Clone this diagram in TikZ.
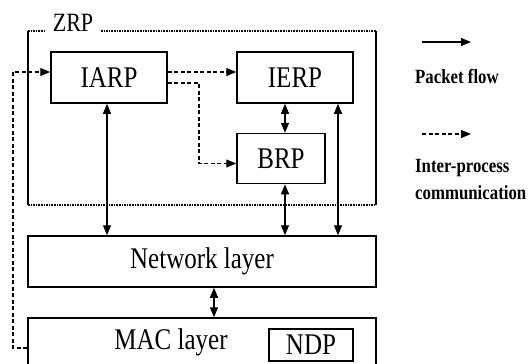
\documentclass[tikz,border=0pt]{standalone}
\usepackage{fontspec}
\setmainfont{Liberation Serif}
\usetikzlibrary{arrows.meta}
\newcommand{\vst}[1]{\scalebox{1}[1.2]{#1}}
\begin{document}
\begin{tikzpicture}[x=1pt,y=-1pt,
  box/.style={draw,line width=1.5pt,inner sep=0pt,font=\fontsize{25}{28}\selectfont},
  flow/.style={line width=1.2pt,{Triangle[length=10pt,width=8pt]}-{Triangle[length=10pt,width=8pt]}},
  flowone/.style={line width=1.2pt,-{Triangle[length=10pt,width=8pt]}},
  ipc/.style={line width=1.2pt,dash pattern=on 4pt off 2.5pt,-{Triangle[length=10pt,width=8pt]}},
  zdot/.style={line width=2.4pt,dash pattern=on 1.6pt off 1pt},
  zside/.style={line width=1.5pt},
  legtext/.style={font=\fontsize{16.8}{20}\selectfont\bfseries,inner sep=0pt,anchor=west}]
\clip (0,0) rectangle (530,364);
\fill[white] (0,0) rectangle (530,364);
% ZRP frame
\coordinate (ztl) at (28,31);
\coordinate (ztr) at (376,31);
\coordinate (zbl) at (28,205);
\coordinate (zbr) at (376,205);
\draw[zside] (ztl) -- (zbl);
\draw[zside] (ztr) -- (zbr);
\draw[zdot] (ztl) -- (45,31);
\draw[zdot] (101,31) -- (ztr);
\draw[zdot] (zbl) -- (zbr);
\node[font=\fontsize{22}{24}\selectfont,inner sep=0pt] (zrp) at (73,23) {\vst{ZRP}};
% boxes
\node[box,minimum width=116pt,minimum height=51pt] (iarp) at (109,77.5) {\vst{IARP}};
\node[box,minimum width=116pt,minimum height=51pt] (ierp) at (295,77.5) {\vst{IERP}};
\node[box,minimum width=88pt,minimum height=50pt] (brp) at (281,158.5) {\vst{BRP}};
\node[box,minimum width=348pt,minimum height=51pt] (net) at (202,261.5) {\vst{Network layer}};
\node[box,minimum width=348pt,minimum height=60pt] (mac) at (202,348) {};
\node[font=\fontsize{25}{28}\selectfont,inner sep=0pt] (maclbl) at (171,342) {\vst{MAC layer}};
\node[box,minimum width=84pt,minimum height=32pt] (ndp) at (311,345) {\vst{NDP}};
% helper coordinates
\coordinate (c0) at (107,0);
\coordinate (c1) at (285,0);
\coordinate (c2) at (338,0);
\coordinate (c3) at (214,0);
\coordinate (d1) at (0,72);
\coordinate (d2) at (0,83);
\coordinate (d3) at (0,163.5);
\coordinate (dl) at (13,0);
\coordinate (dm) at (199,0);
% packet flow
\draw[flow] (iarp.south -| c0) -- (net.north -| c0);
\draw[flow] (ierp.south -| c1) -- (brp.north -| c1);
\draw[flow] (brp.south -| c1) -- (net.north -| c1);
\draw[flow] (ierp.south -| c2) -- (net.north -| c2);
\draw[flow] (net.south -| c3) -- (mac.north -| c3);
% inter-process
\draw[ipc] (mac.west) -- (mac.west -| dl) -- (dl |- d1) -- (iarp.west |- d1);
\draw[ipc] (iarp.east |- d1) -- (ierp.west |- d1);
\draw[ipc] (iarp.east |- d2) -- (dm |- d2) -- (dm |- d3) -- (brp.west |- d3);
% legend
\coordinate (l1a) at (422,42);
\coordinate (l1b) at (471,42);
\coordinate (l2a) at (422,134);
\coordinate (l2b) at (471,134);
\draw[flowone] (l1a) -- (l1b);
\draw[ipc] (l2a) -- (l2b);
\node[legtext] (lpf) at (415,76) {\vst{Packet flow}};
\node[legtext] (lip) at (415,168) {\vst{Inter-process}};
\node[legtext] (lcm) at (415,193) {\vst{communication}};
\end{tikzpicture}
\end{document}
